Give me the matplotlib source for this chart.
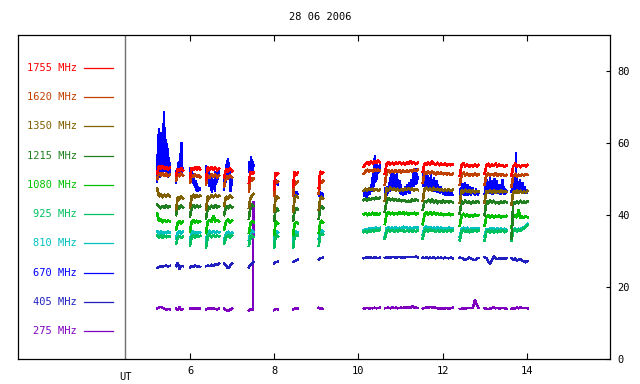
import matplotlib
matplotlib.use('Agg')
import matplotlib.pyplot as plt
import numpy as np

plt.rcParams['font.family'] = ['DejaVu Sans Mono']

title = "28 06 2006"
xticks = [6, 8, 10, 12, 14]
yticks = [0, 20, 40, 60, 80]
ut_label = "UT"
ut_hour = 4.46

freq_labels = ["1755 MHz", "1620 MHz", "1350 MHz", "1215 MHz", "1080 MHz",
               "925 MHz", "810 MHz", "670 MHz", "405 MHz", "275 MHz"]
colors = ["#ff0000", "#c04000", "#806000", "#208020", "#00c000",
          "#00c060", "#00c0c0", "#0000ff", "#2020c0", "#8000c0"]

# observation segments (UT hours)
segments = [(5.22, 5.52), (5.67, 5.83), (6.00, 6.24), (6.38, 6.69), (6.81, 7.00),
            (7.40, 7.51), (8.00, 8.09), (8.45, 8.56), (9.06, 9.16), (10.13, 10.51),
            (10.63, 11.41), (11.53, 12.24), (12.41, 12.86), (13.00, 13.52), (13.64, 14.02)]

s1755 = [
    [51.5, 53.8, 52.9, 53.6, 52.8, 53.5, 52.7, 53.1],
    [51.0, 52.9, 52.3, 53.1, 52.5],
    [50.5, 53.2, 52.6, 53.4, 52.8, 53.3, 52.7],
    [50.0, 53.3, 52.6, 53.4, 52.7, 53.2, 52.5, 53.0],
    [50.5, 52.8, 52.2, 53.0, 52.3],
    [49.0, 52.0, 51.3, 51.9],
    [47.0, 51.8, 51.0, 51.6],
    [48.0, 52.0, 51.2, 51.8],
    [47.5, 52.2, 51.4, 51.9],
    [53.5, 54.3, 54.7, 54.2, 54.8, 54.4, 54.9, 54.6, 55.1, 54.7],
    [51.5, 54.3, 54.6, 54.1, 54.5, 54.2, 54.6, 54.3, 54.7, 54.2, 54.5, 54.1, 54.6, 54.3, 54.9, 54.4, 54.7, 54.2, 54.5],
    [52.0, 54.4, 54.0, 54.6, 54.1, 54.8, 54.2, 54.0, 54.5, 53.9, 54.3, 54.0, 54.4, 53.8, 54.2, 53.9, 54.1],
    [51.0, 53.9, 54.4, 53.6, 54.0, 53.5, 53.9, 53.6, 54.0, 53.5, 53.9],
    [51.5, 53.8, 54.2, 53.6, 54.0, 53.7, 54.3, 53.6, 54.0, 53.7, 53.9, 53.5, 53.8],
    [51.0, 53.6, 54.2, 53.5, 53.9, 53.4, 53.8, 53.9, 53.6, 54.0],
]
s1620 = [
    [50.0, 51.8, 51.1, 51.6, 51.0, 51.5, 50.9, 51.3],
    [49.5, 51.4, 50.9, 51.5, 51.0],
    [49.0, 51.2, 50.7, 51.3, 50.8, 51.1, 50.6],
    [48.5, 51.1, 50.6, 51.3, 50.7, 51.2, 50.6, 51.0],
    [48.0, 50.9, 50.3, 51.0, 50.5],
    [46.5, 50.3, 49.8, 50.2],
    [45.5, 49.6, 49.0, 49.4],
    [45.5, 49.4, 48.9, 49.3],
    [46.0, 49.6, 49.1, 49.5],
    [51.5, 52.2, 52.6, 52.1, 52.5, 52.2, 52.7, 52.3, 52.6, 52.4],
    [48.5, 52.0, 52.4, 51.9, 52.3, 52.0, 52.5, 52.1, 52.4, 51.9, 52.3, 52.0, 52.4, 52.1, 52.5, 52.2, 52.6, 52.3, 52.6],
    [49.0, 51.9, 51.5, 52.1, 51.6, 52.2, 51.7, 51.4, 51.9, 51.5, 51.8, 51.4, 51.7, 51.3, 51.6, 51.2, 51.5],
    [48.5, 51.3, 51.8, 51.1, 51.5, 51.0, 51.4, 51.1, 51.5, 51.0, 51.3],
    [48.5, 51.2, 51.6, 51.0, 51.4, 51.1, 51.6, 51.0, 51.4, 51.1, 51.3, 50.9, 51.2],
    [48.0, 50.9, 51.4, 50.8, 51.2, 50.9, 51.3, 51.0, 51.4, 51.2],
]
s1350 = [
    [47.5, 45.2, 45.7, 45.1, 45.6, 45.2, 45.7, 45.3],
    [41.5, 45.0, 44.5, 45.2, 44.7],
    [42.0, 45.2, 45.6, 45.0, 45.5, 45.1, 45.4],
    [41.5, 45.3, 44.8, 45.5, 45.0, 45.6, 45.1, 45.4],
    [42.5, 45.2, 44.7, 45.4, 44.9],
    [42.0, 44.8, 45.4, 45.9],
    [41.0, 44.6, 45.2, 44.8],
    [41.0, 44.7, 45.3, 44.9],
    [41.5, 44.5, 45.1, 44.7],
    [46.8, 47.3, 46.9, 47.4, 47.0, 47.3, 46.9, 47.2, 46.8, 47.1],
    [44.0, 47.5, 47.0, 47.6, 47.1, 47.4, 46.9, 47.3, 46.8, 47.2, 46.9, 47.3, 47.0, 47.5, 47.1, 47.4, 46.9, 47.2, 47.0],
    [44.0, 47.2, 47.6, 47.0, 47.4, 46.9, 47.5, 47.0, 47.3, 46.9, 47.2, 46.8, 47.1, 46.9, 47.2, 46.8, 47.0],
    [43.5, 46.9, 46.4, 47.0, 46.5, 46.9, 46.4, 46.8, 46.3, 46.7, 46.5],
    [43.5, 46.8, 46.3, 46.9, 46.4, 46.8, 46.3, 46.7, 46.4, 46.9, 46.4, 46.7, 46.5],
    [43.0, 46.6, 46.2, 46.8, 46.3, 46.7, 46.2, 46.6, 46.3, 46.7],
]
s1215 = [
    [42.8, 42.4, 42.0, 42.5, 42.1, 42.6, 42.2, 42.4],
    [40.0, 42.5, 42.0, 42.6, 42.2],
    [39.5, 42.3, 42.7, 42.1, 42.6, 42.2, 42.5],
    [39.0, 42.4, 41.9, 42.6, 42.1, 42.7, 42.2, 42.5],
    [40.0, 42.5, 42.0, 42.7, 42.2],
    [39.0, 42.3, 42.9, 42.5],
    [38.5, 41.3, 41.8, 41.4],
    [38.5, 41.4, 41.9, 41.5],
    [39.0, 41.9, 42.4, 42.0],
    [44.2, 44.5, 44.1, 44.6, 44.3, 44.7, 44.4, 44.8, 44.5, 44.9],
    [41.0, 44.3, 44.6, 44.2, 44.5, 44.1, 44.4, 44.0, 44.3, 43.9, 44.2, 44.0, 43.7, 44.0, 43.8, 44.3, 44.0, 44.4, 44.1],
    [41.5, 44.0, 43.6, 44.2, 43.7, 44.3, 43.5, 44.1, 43.4, 43.9, 43.5, 44.0, 43.6, 43.9, 43.5, 43.8, 43.6],
    [40.5, 43.9, 43.4, 44.0, 43.5, 43.8, 43.3, 43.7, 43.4, 43.9, 43.6],
    [40.0, 43.8, 43.3, 44.0, 43.5, 43.9, 43.3, 43.6, 43.2, 43.7, 43.4, 43.8, 43.6],
    [33.5, 43.7, 43.3, 43.8, 43.4, 43.9, 43.5, 43.7, 43.4, 43.8],
]
s1080 = [
    [40.5, 38.3, 38.7, 38.1, 38.6, 38.2, 38.5, 38.3],
    [36.0, 38.0, 38.3, 37.8, 38.1],
    [35.5, 38.1, 38.5, 38.0, 38.4, 38.0, 38.3],
    [35.0, 38.2, 38.6, 38.0, 39.8, 38.3, 38.6, 38.2],
    [36.0, 38.3, 38.7, 38.1, 38.5],
    [35.0, 37.8, 38.3, 38.0],
    [34.5, 37.6, 38.1, 37.7],
    [34.5, 37.6, 38.0, 37.7],
    [35.0, 37.8, 38.3, 37.9],
    [40.2, 40.5, 40.0, 40.4, 40.1, 40.6, 40.2, 40.5, 40.1, 40.4],
    [37.5, 40.4, 40.7, 40.3, 40.6, 40.2, 40.5, 40.3, 40.7, 40.4, 40.8, 40.3, 40.6, 40.2, 40.5, 40.3, 40.6, 40.2, 40.5],
    [37.5, 40.3, 40.7, 40.2, 40.8, 40.3, 40.6, 40.2, 40.5, 40.1, 40.4, 40.0, 40.3, 40.1, 40.4, 40.0, 40.2],
    [37.0, 39.9, 40.3, 39.7, 40.1, 39.6, 40.0, 39.7, 40.1, 39.8, 40.0],
    [37.0, 39.6, 40.0, 39.5, 39.9, 39.4, 39.8, 39.5, 39.9, 39.4, 39.7, 39.5, 39.8],
    [36.5, 39.5, 39.9, 39.3, 41.5, 39.2, 39.6, 39.3, 39.7, 39.4],
]
s925 = [
    [34.2, 33.9, 34.3, 33.8, 34.2, 33.9, 34.2, 34.0],
    [32.0, 33.8, 34.1, 33.7, 34.0],
    [31.5, 34.0, 34.4, 33.9, 34.3, 34.0, 34.2],
    [31.0, 34.1, 34.5, 33.9, 34.4, 34.0, 34.3, 34.1],
    [32.0, 34.0, 34.4, 33.9, 34.3],
    [31.5, 33.8, 34.2, 33.9],
    [31.0, 34.0, 34.3, 34.0],
    [31.0, 34.2, 34.5, 34.3],
    [31.5, 34.5, 34.8, 34.6],
    [35.3, 35.6, 35.2, 35.7, 35.4, 35.8, 35.5, 35.9, 35.6, 35.9],
    [33.5, 35.6, 35.9, 35.5, 35.8, 35.4, 35.7, 35.5, 35.9, 35.6, 35.8, 35.4, 35.7, 35.5, 35.8, 35.4, 35.7, 35.5, 35.8],
    [33.5, 35.6, 36.0, 35.5, 35.9, 35.6, 35.8, 35.4, 35.7, 35.5, 35.8, 35.4, 35.7, 35.5, 35.8, 35.5, 35.7],
    [33.0, 35.5, 35.9, 35.4, 35.8, 35.3, 35.7, 35.4, 35.8, 35.5, 35.7],
    [33.0, 35.4, 35.8, 35.3, 35.7, 35.2, 35.6, 35.3, 35.7, 35.4, 35.8, 35.3, 35.6],
    [33.0, 35.6, 35.9, 35.5, 35.9, 35.7, 36.1, 36.3, 36.8, 37.2],
]
s810 = [
    [35.5, 35.0, 35.4, 34.9, 35.3, 35.0, 35.4, 35.1],
    [33.5, 35.2, 35.5, 35.0, 35.3],
    [33.0, 35.0, 35.4, 34.9, 35.3, 35.0, 35.2],
    [33.0, 35.3, 35.6, 35.1, 35.5, 35.2, 35.4, 35.2],
    [33.0, 34.9, 35.3, 34.8, 35.1],
    [33.0, 35.2, 35.6, 35.3],
    [33.0, 35.2, 35.5, 35.2],
    [33.0, 35.1, 35.4, 35.2],
    [33.5, 35.5, 35.8, 35.5],
    [35.8, 36.1, 35.9, 36.3, 36.0, 36.4, 36.1, 36.5, 36.2, 36.4],
    [34.0, 36.3, 36.6, 36.2, 36.5, 36.3, 36.6, 36.2, 36.5, 36.3, 36.7, 36.4, 36.6, 36.2, 36.5, 36.3, 36.6, 36.4, 36.6],
    [34.5, 36.4, 36.8, 36.3, 36.6, 36.2, 36.5, 36.3, 36.6, 36.2, 36.5, 36.1, 36.4, 36.2, 36.5, 36.2, 36.4],
    [34.0, 36.1, 36.5, 36.0, 36.4, 35.9, 36.3, 36.0, 36.4, 36.1, 36.3],
    [34.0, 36.2, 35.6, 36.4, 35.7, 36.3, 35.6, 36.5, 35.8, 36.3, 35.7, 36.2, 35.9],
    [34.0, 35.9, 36.3, 35.8, 36.2, 36.0, 36.4, 36.6, 37.0, 37.6],
]
s670 = [
    [49.2, 58.0, 51.0, 64.0, 52.0, 61.5, 50.5, 63.0, 53.0, 59.0, 51.5, 62.5, 55.0, 68.7, 52.0, 64.5,
     53.5, 61.0, 51.0, 60.0, 52.5, 58.5, 50.5, 56.0, 51.5, 54.5],
    [49.0, 53.0, 50.5, 54.5, 51.0, 55.0, 52.0, 57.0, 51.5, 60.3, 52.0, 53.0],
    [53.0, 51.0, 52.5, 50.0, 51.5, 48.8, 50.5, 47.8, 49.5, 47.0, 48.8, 46.5, 48.0, 46.8, 47.5, 47.2],
    [53.5, 51.0, 52.5, 49.5, 52.0, 48.0, 51.0, 46.8, 50.5, 46.3, 49.0, 47.5, 50.0, 46.5, 52.0, 48.5,
     53.0, 50.0, 52.5, 51.0],
    [47.0, 52.5, 49.0, 54.0, 50.5, 55.8, 51.0, 54.5, 48.0, 46.5, 50.0, 48.5],
    [52.0, 55.0, 51.5, 56.3, 53.0, 55.5, 52.5, 54.0],
    [48.0, 50.5, 48.5, 49.5, 48.5],
    [45.5, 46.8, 45.2, 46.5, 45.8],
    [45.3, 46.5, 45.1, 46.2, 45.5],
    [45.5, 46.8, 45.2, 46.5, 45.0, 46.9, 45.4, 46.2, 45.9, 47.5, 45.8, 48.5, 46.5, 50.5, 47.0, 52.5,
     48.0, 56.6, 49.0, 54.0, 50.0, 54.3, 51.5, 53.0, 52.0, 54.5],
    [47.5, 45.8, 47.0, 45.5, 48.0, 46.0, 49.0, 46.5, 50.5, 47.0, 52.0, 47.5, 51.0, 48.0, 52.3, 47.2,
     50.5, 48.0, 51.5, 47.0, 50.0, 46.5, 49.5, 46.0, 48.5, 45.8, 47.5, 45.5, 47.0, 46.0, 48.0, 45.8,
     47.5, 46.2, 48.5, 46.5, 49.0, 46.0, 48.0, 46.8, 50.0, 47.5, 51.5, 48.0, 52.0, 49.0, 53.0, 48.5,
     51.5, 50.0],
    [52.5, 48.0, 51.5, 47.5, 52.2, 48.2, 50.8, 47.2, 51.0, 47.8, 50.0, 47.0, 51.5, 46.8, 49.8, 47.5,
     50.5, 46.5, 49.0, 47.0, 49.5, 46.2, 48.5, 46.8, 48.0, 46.0, 47.8, 46.5, 47.5, 45.8, 47.0, 46.0,
     46.8, 45.5, 46.5, 45.8, 47.0, 45.6, 46.5, 45.8, 46.3, 45.5, 46.2, 45.6],
    [45.0, 47.5, 45.5, 48.8, 45.8, 47.2, 45.6, 49.0, 45.5, 47.0, 46.0, 48.5, 45.6, 47.3, 45.8, 48.0,
     45.5, 47.0, 46.0, 47.8, 45.7, 46.8, 45.5, 47.5, 45.9, 46.5, 45.6, 46.2],
    [46.0, 48.5, 45.8, 50.0, 46.5, 49.0, 45.9, 48.0, 50.5, 46.0, 47.5, 49.5, 45.8, 48.8, 46.2, 50.3,
     46.0, 48.2, 46.5, 49.5, 45.9, 47.8, 46.2, 48.5, 45.8, 47.0, 46.5, 50.0, 46.0, 48.0, 45.7, 47.5,
     46.2, 46.8],
    [46.5, 49.5, 46.0, 50.5, 46.8, 48.2, 46.0, 57.5, 46.5, 49.8, 46.2, 48.5, 46.0, 50.0, 46.6, 48.0,
     46.2, 49.0, 46.4, 47.5, 46.0, 48.0, 46.3, 47.2, 46.1, 46.8],
]
s405 = [
    [25.3, 25.6, 25.9, 25.7, 25.8, 26.0, 25.7, 25.9],
    [25.8, 26.8, 25.0, 25.9, 25.8],
    [25.3, 25.8, 25.6, 26.1, 25.7, 25.9, 25.6],
    [25.8, 26.0, 25.8, 26.2, 25.9, 26.3, 26.1, 26.6],
    [26.6, 26.0, 25.2, 25.9, 26.5],
    [25.5, 26.2, 26.6, 27.0],
    [26.6, 26.9, 27.0, 27.1],
    [27.0, 27.3, 27.4, 27.6],
    [27.7, 28.0, 28.1, 28.2],
    [28.0, 28.2, 28.1, 28.3, 28.2, 28.1, 28.3, 28.2, 28.1, 28.2],
    [28.1, 28.3, 28.2, 28.2, 28.4, 28.3, 28.2, 28.3, 28.4, 28.2, 28.3, 28.2, 28.4, 28.3, 28.3, 28.4, 28.3, 28.5, 28.3],
    [28.2, 28.1, 28.3, 28.0, 28.2, 28.1, 28.3, 28.0, 28.2, 28.1, 28.2, 28.0, 28.2, 28.1, 28.0, 28.2, 28.0],
    [28.2, 28.1, 27.8, 27.5, 27.8, 28.2, 28.0, 27.6, 27.5, 27.9, 28.1],
    [28.3, 28.0, 27.2, 26.5, 27.4, 28.6, 28.0, 27.8, 28.0, 27.9, 28.1, 27.9, 28.0],
    [28.0, 27.6, 27.9, 27.3, 27.6, 27.8, 27.4, 27.2, 26.9, 27.2],
]
s275 = [
    [14.0, 14.3, 14.5, 14.2, 13.9, 13.7, 13.9, 13.8],
    [14.1, 13.6, 14.5, 13.7, 13.9],
    [14.0, 14.1, 14.0, 14.1, 14.0, 14.1, 14.0],
    [13.8, 14.0, 14.1, 14.0, 14.1, 13.9, 13.8, 14.0],
    [14.0, 13.6, 13.4, 13.7, 14.0],
    [13.5, 13.7, 13.6, 13.8, 13.7, 13.8, 43.6],
    [13.6, 13.8, 13.9, 13.8],
    [13.8, 14.0, 14.1, 14.0],
    [14.2, 13.9, 14.2, 13.9],
    [14.0, 14.1, 14.2, 14.0, 14.2, 14.1, 14.3, 14.1, 14.2, 14.3],
    [14.1, 14.2, 14.3, 14.1, 14.4, 14.2, 14.3, 14.1, 14.2, 14.3, 14.2, 14.4, 14.2, 14.3, 14.2, 14.8, 14.2, 14.3, 14.2],
    [14.0, 14.2, 14.4, 14.3, 14.5, 14.3, 14.4, 14.2, 14.1, 14.0, 14.1, 14.0, 14.1, 14.2, 14.0, 14.1, 14.3],
    [13.9, 14.0, 14.1, 14.0, 14.2, 14.1, 14.2, 14.3, 16.6, 15.0, 14.2],
    [14.1, 14.0, 13.9, 14.0, 14.2, 14.3, 14.1, 14.2, 14.0, 14.1, 14.2, 14.1, 14.0],
    [14.0, 14.1, 14.0, 14.3, 14.1, 14.4, 14.2, 14.1, 14.2, 14.1],
]

series = [s1755, s1620, s1350, s1215, s1080, s925, s810, s670, s405, s275]
draw_order = [7, 9, 8, 6, 5, 4, 3, 2, 1, 0]
line_widths = [1.2, 1.2, 1.2, 1.2, 1.2, 1.2, 1.2, 0.9, 1.0, 1.0]

W, H = 640, 384
fig = plt.figure(figsize=(W / 100, H / 100), dpi=100)
x0, x1, yt, yb = 18.3, 610.0, 35.3, 359.0
ax = fig.add_axes([x0 / W, 1 - yb / H, (x1 - x0) / W, (yb - yt) / H])
ax.set_xlim(1.92, 15.98)
ax.set_ylim(0, 90)

for idx in draw_order:
    for (t0, t1), vals in zip(segments, series[idx]):
        ax.plot(np.linspace(t0, t1, len(vals)), vals, color=colors[idx],
                lw=line_widths[idx], antialiased=False, solid_joinstyle='miter')

ax.axvline(ut_hour, color='#707070', lw=1.0)

# legend panel
for i, (lab, c) in enumerate(zip(freq_labels, colors)):
    y = 80.92 - i * 8.13
    ax.text(3.317, y, lab, ha='right', va='center', color=c, fontsize=7.5)
    ax.plot([3.484, 4.172], [y, y], color=c, lw=0.9)

ax.set_xticks(xticks)
ax.set_xticklabels([str(t) for t in xticks])
ax.tick_params(axis='x', direction='in', top=True, bottom=True, length=4,
               width=0.8, labelsize=7.5, pad=5)
ax.yaxis.tick_right()
ax.set_yticks(yticks)
ax.tick_params(axis='y', direction='in', left=False, right=True, length=3,
               width=0.8, labelsize=7.5, pad=5)
ax.text(ut_hour, -0.04, ut_label, transform=ax.get_xaxis_transform(),
        ha='center', va='top', fontsize=7.5)
for s in ax.spines.values():
    s.set_linewidth(0.9)

fig.text(0.5, 1 - 17 / H, title, ha='center', va='center', fontsize=7.5)

fig.savefig('out.png', dpi=100)
